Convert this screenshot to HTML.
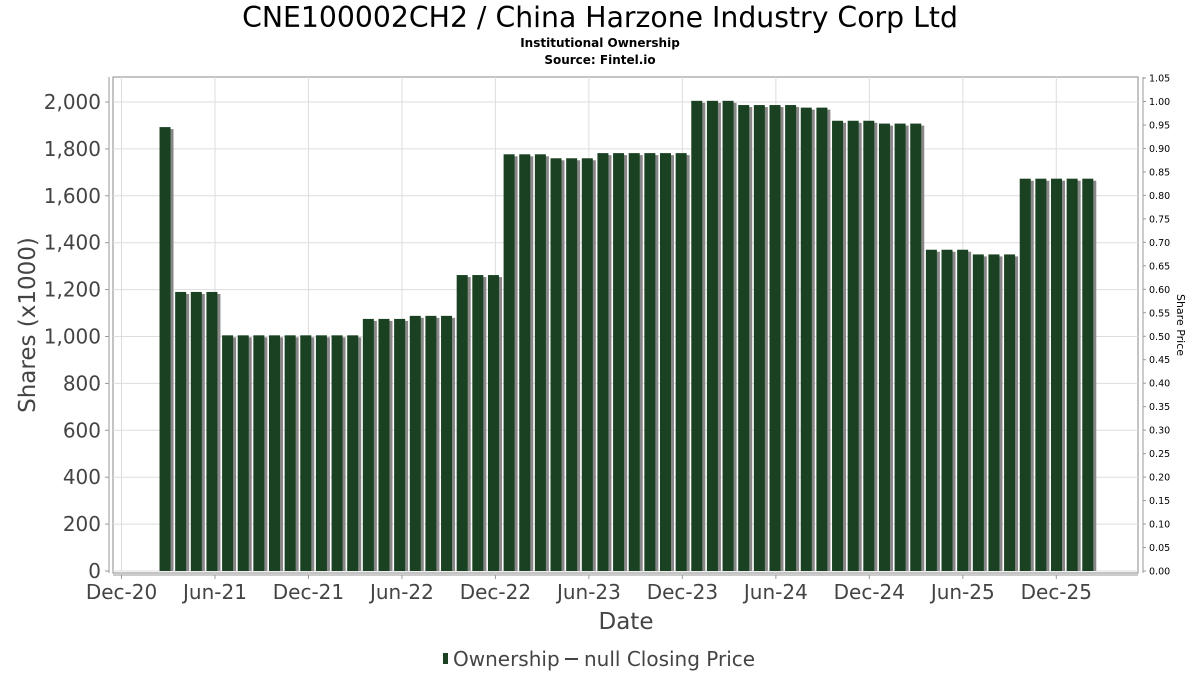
<!DOCTYPE html>
<html><head><meta charset="utf-8"><style>
html,body{margin:0;padding:0;background:#fff;}
svg{display:block;font-family:"DejaVu Sans","Liberation Sans",sans-serif;}
</style></head><body>
<svg id="chart" width="1200" height="675" viewBox="0 0 1200 675">
<text x="600" y="27" font-size="28.3" text-anchor="middle" fill="#000">CNE100002CH2 / China Harzone Industry Corp Ltd</text>
<text x="600" y="47" font-size="12" font-weight="bold" text-anchor="middle" fill="#000">Institutional Ownership</text>
<text x="600" y="64" font-size="12" font-weight="bold" text-anchor="middle" fill="#000">Source: Fintel.io</text>
<rect x="113" y="77" width="1025" height="496" fill="#fff" stroke="#888" stroke-width="1"/>
<g id="grid"></g>
<g id="bars"></g>
<g id="axes"></g>
<text transform="translate(35,325) rotate(-90)" font-size="23" text-anchor="middle" fill="#444">Shares (x1000)</text>
<text transform="translate(1177,325) rotate(90)" font-size="11" text-anchor="middle" fill="#000">Share Price</text>
<text x="626" y="629" font-size="23" text-anchor="middle" fill="#444">Date</text>
<g>
<rect x="443" y="653" width="5" height="11" fill="#1a4222"/>
<text x="453" y="666" font-size="20" fill="#444">Ownership</text>
<line x1="565" y1="659" x2="578" y2="659" stroke="#444" stroke-width="2"/>
<text x="584" y="666" font-size="20" fill="#444">null Closing Price</text>
</g>
</svg>
<script>
const monthOffsets = [3,4,5,6,7,8,9,10,11,12,13,14,15,16,17,18,19,20,21,22,23,24,25,26,27,28,29,30,31,32,33,34,35,36,37,38,39,40,41,42,43,44,45,46,47,48,49,50,51,52,53,54,55,56,57,58,59,60,61,62];
const ownership = [1893,1190,1190,1190,1005,1005,1005,1005,1005,1005,1005,1005,1005,1075,1075,1075,1088,1088,1088,1262,1262,1262,1777,1777,1777,1760,1760,1760,1782,1782,1782,1782,1782,1782,2005,2005,2005,1987,1987,1987,1987,1976,1976,1920,1920,1920,1908,1908,1908,1370,1370,1370,1350,1350,1350,1673,1673,1673,1673,1673];
const yTicks = [0,200,400,600,800,1000,1200,1400,1600,1800,2000];
const y2Ticks = ["0.00","0.05","0.10","0.15","0.20","0.25","0.30","0.35","0.40","0.45","0.50","0.55","0.60","0.65","0.70","0.75","0.80","0.85","0.90","0.95","1.00","1.05"];
const xTickLabels = ["Dec-20","Jun-21","Dec-21","Jun-22","Dec-22","Jun-23","Dec-23","Jun-24","Dec-24","Jun-25","Dec-25"];
const xTickMonths = [0,6,12,18,24,30,36,42,48,54,60];

const NS="http://www.w3.org/2000/svg";
function y(v){return 571 - v*0.2345;}
function y2(p){return 571 - p*469.5;}
function x(m){return 121.5 + m*15.58;}
function xb(m){return 112.6 + m*15.64;}
function mk(tag,attrs,parent){const e=document.createElementNS(NS,tag);for(const k in attrs)e.setAttribute(k,attrs[k]);parent.appendChild(e);return e;}
const grid=document.getElementById('grid'),bars=document.getElementById('bars'),axes=document.getElementById('axes');

yTicks.forEach(v=>{
  const l=mk('line',{x1:113,x2:1138,y1:y(v),y2:y(v),stroke:'#ddd','stroke-width':1},grid);
  
  
  const t=mk('line',{x1:105,x2:109,y1:y(v),y2:y(v),stroke:'#999'},axes);
  
  
  const tx=mk('text',{x:101,y:y(v)+7,'font-size':20,'text-anchor':'end',fill:'#444'},axes);
  tx.textContent=v.toLocaleString('en-US');
  
  
});
xTickMonths.forEach((m,i)=>{
  const l=mk('line',{x1:x(m),x2:x(m),y1:77,y2:573,stroke:'#ddd','stroke-width':1},grid);
  
  
  const t=mk('line',{x1:x(m),x2:x(m),y1:575,y2:579,stroke:'#999'},axes);
  
  
  const tx=mk('text',{x:x(m),y:599,'font-size':20,'text-anchor':'middle',fill:'#444'},axes);
  tx.textContent=xTickLabels[i];
  
  
});
y2Ticks.forEach(p=>{
  const v=parseFloat(p);
  const t=mk('line',{x1:1143,x2:1146,y1:y2(v),y2:y2(v),stroke:'#999'},axes);
  
  
  const tx=mk('text',{x:1149,y:y2(v)+3.5,'font-size':9.5,fill:'#000'},axes);
  tx.textContent=p;
  
  
});
const la=mk('line',{x1:109,x2:109,y1:77,y2:573,stroke:'#999'},axes);


const ba=mk('line',{x1:113,x2:1138,y1:575,y2:575,stroke:'#999'},axes);


const ra=mk('line',{x1:1143,x2:1143,y1:77,y2:573,stroke:'#999'},axes);



ownership.forEach((v,i)=>{
  const left=xb(monthOffsets[i]);
  const sh=mk('rect',{x:left+3,y:y(v)+2,width:11,height:571-y(v)-2,fill:'#888'},bars);
  
  
  const b=mk('rect',{x:left,y:y(v),width:11,height:571-y(v),fill:'#1a4222'},bars);
  
  
});
</script>
</body></html>
